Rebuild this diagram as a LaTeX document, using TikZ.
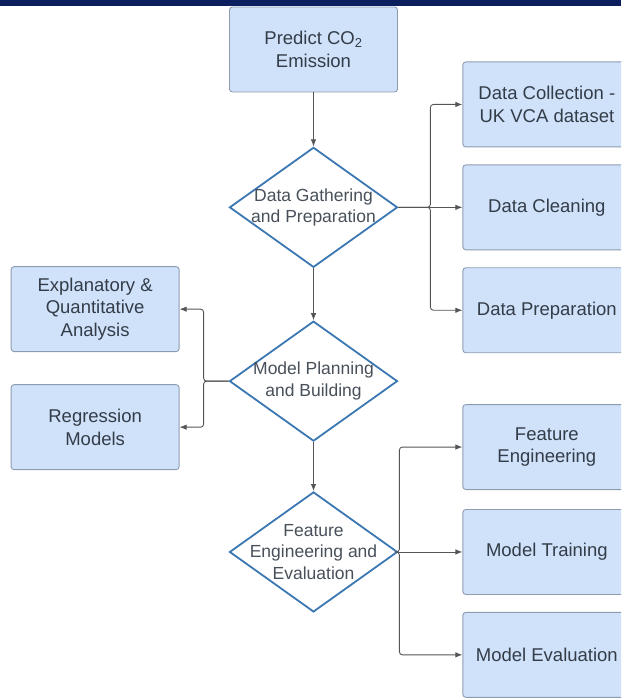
\documentclass[tikz,border=0pt]{standalone}
\usepackage{fontspec}
\setmainfont{Liberation Sans}
\usetikzlibrary{arrows.meta, positioning, shapes.geometric}
\definecolor{boxfill}{HTML}{CFE2FA}
\definecolor{boxline}{HTML}{8E9CB0}
\definecolor{dline}{HTML}{3B77B2}
\definecolor{txt}{HTML}{343C48}
\definecolor{arrline}{HTML}{555555}
\definecolor{topbar}{HTML}{0B1F5E}

\begin{document}
\begin{tikzpicture}[
    x=1pt, y=-1pt,
    node distance=52pt and 64pt,
    box/.style={draw=boxline, fill=boxfill, rounded corners=3pt, line width=0.9pt, align=center, minimum width=168pt, minimum height=85pt, text=txt, font=\fontsize{18.5}{22.5}\selectfont},
    dec/.style={diamond, draw=dline, fill=white, line width=1.8pt, minimum width=168pt, minimum height=120pt, inner sep=0pt},
    dtext/.style={align=center, text=txt!90!white, font=\fontsize{17.5}{21.5}\selectfont},
    arr/.style={-{Latex[length=7pt, width=5.5pt]}, draw=arrline, line width=0.9pt, rounded corners=3pt}
]
\useasboundingbox (0,0) rectangle (621,700);
\clip (0,0) rectangle (621,700);
\fill[topbar] (0,0) rectangle (621,6);

% main column
\node[box] (pred) at (313.5,49.5) {Predict CO\textsubscript{2}\\Emission};
\node[dec, below=54pt of pred] (d1) {};
\node[dtext] (d1t) at (d1) {Data Gathering\\and Preparation};
\node[dec, below=of d1] (d2) {};
\node[dtext] (d2t) at (d2) {Model Planning\\and Building};
\node[dec, below=49pt of d2] (d3) {};
\node[dtext] (d3t) at (d3) {Feature\\Engineering and\\Evaluation};

% data steps
\node[box, right=of d1] (clean) {Data Cleaning};
\node[box, above=17pt of clean] (collect) {Data Collection -\\UK VCA dataset};
\node[box, below=17pt of clean] (prep) {Data Preparation};

% model steps
\node[box, left=49pt of d2, yshift=72pt] (explore) {Explanatory \&\\Quantitative\\Analysis};
\node[box, left=49pt of d2, yshift=-46pt] (regr) {Regression\\Models};

% feature steps
\node[box, right=of d3] (train) {Model Training};
\node[box, above=19pt of train] (feat) {Feature\\Engineering};
\node[box, below=17pt of train] (evalm) {Model Evaluation};

\draw[arr] (pred) -- (d1);
\draw[arr] (d1) -- (d2);
\draw[arr] (d2) -- (d3);

\draw[arr] (d1.east) -| ([xshift=-32pt]collect.west) -- (collect.west);
\draw[arr] (d1.east) -- (clean.west);
\draw[arr] (d1.east) -| ([xshift=-32pt]prep.west) -- (prep.west);

\draw[arr] (d2.west) -| ([xshift=24pt]explore.east) -- (explore.east);
\draw[arr] (d2.west) -| ([xshift=24pt]regr.east) -- (regr.east);

\draw[arr] (d3.east) -| ([xshift=-63pt]feat.west) -- (feat.west);
\draw[arr] (d3.east) -- (train.west);
\draw[arr] (d3.east) -| ([xshift=-63pt]evalm.west) -- (evalm.west);
\end{tikzpicture}
\end{document}
